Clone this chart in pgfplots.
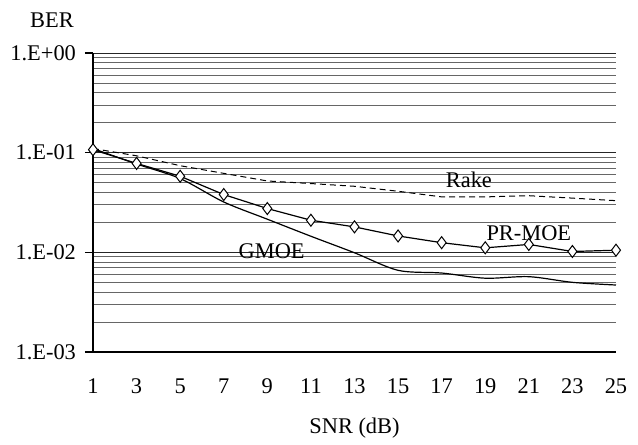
\documentclass[border=0pt]{standalone}
\usepackage{pgfplots}
\pgfplotsset{compat=1.18}
\usepackage{fontspec}
\setmainfont{Liberation Serif}
\begin{document}
\begin{tikzpicture}
\begin{axis}[
  ymode=log,
  scale only axis,
  width=261.5pt, height=149.5pt,
  xmin=1, xmax=25, ymin=1e-3, ymax=1,
  xtick={1,3,...,25},
  ytick={1e-3,1e-2,1e-1,1},
  yticklabels={1.E-03,1.E-02,1.E-01,1.E+00},
  /pgf/number format/assume math mode=true,
  font=\fontsize{11.2}{13}\selectfont,
  ticklabel style={font=\fontsize{11.2}{13}\selectfont},
  axis x line*=bottom, axis y line*=left,
  axis line style={-, black, line width=0.6pt},
  xtick style={draw=none},
  ytick style={black, line width=0.6pt},
  tick align=outside,
  major tick length=4pt,
  minor tick length=0pt,
  ymajorgrids, yminorgrids,
  major grid style={black!85, line width=0.5pt},
  minor grid style={black!60, line width=0.4pt},
  xticklabel style={yshift=-6pt},
  yticklabel style={xshift=-1pt},
  xlabel={SNR (dB)},
  xlabel style={yshift=-5pt},
  clip=false,
]
% Rake
\addplot[black, line width=0.5pt, densely dashed] coordinates {
(1,0.11) (3,0.093) (5,0.074) (7,0.062) (9,0.052) (11,0.049) (13,0.046)
(15,0.041) (17,0.036) (19,0.036) (21,0.037) (23,0.035) (25,0.033)};
% GMOE
\addplot[black, line width=0.6pt, smooth] coordinates {
(1,0.11) (3,0.077) (5,0.055) (7,0.032) (9,0.0215) (11,0.0145) (13,0.0099)
(15,0.0066) (17,0.0062) (19,0.0055) (21,0.0057) (23,0.0050) (25,0.0047)};
% PR-MOE
\addplot[black, line width=0.6pt, mark=diamond*, mark size=3pt,
  mark options={fill=white, line width=0.5pt}] coordinates {
(1,0.107) (3,0.078) (5,0.058) (7,0.038) (9,0.0275) (11,0.021) (13,0.018)
(15,0.0146) (17,0.0125) (19,0.0111) (21,0.012) (23,0.0102) (25,0.0105)};
\node[font=\fontsize{11.2}{13}\selectfont] at (axis cs:18.25,0.054) {Rake};
\node[font=\fontsize{11.2}{13}\selectfont] at (axis cs:21,0.0155) {PR-MOE};
\node[font=\fontsize{11.2}{13}\selectfont] at (axis cs:9.2,0.0102) {GMOE};
\node[font=\fontsize{11.2}{13}\selectfont] at ([xshift=-20.5pt,yshift=16.5pt]rel axis cs:0,1) {BER};
\end{axis}
\path ([xshift=-46.5pt,yshift=-36.5pt]current axis.south west) rectangle ++(319pt,212.5pt);
\end{tikzpicture}
\end{document}
